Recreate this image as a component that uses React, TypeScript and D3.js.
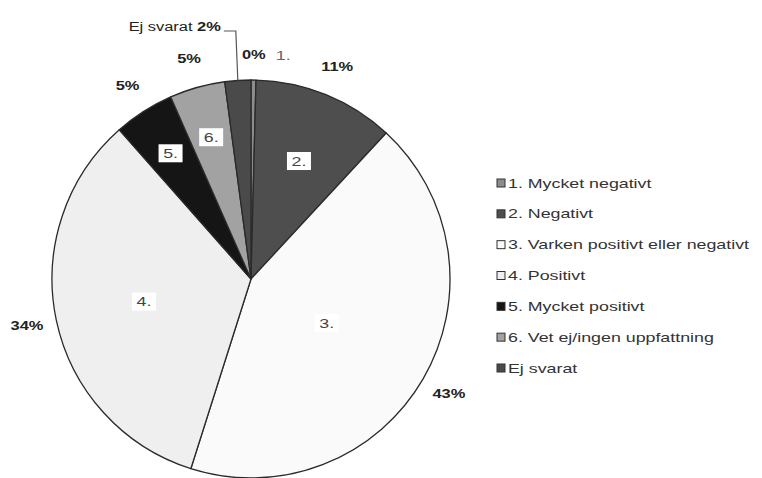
import React from "react";
import * as d3 from "d3";

const categories = [
  "1. Mycket negativt",
  "2. Negativt",
  "3. Varken positivt eller negativt",
  "4. Positivt",
  "5. Mycket positivt",
  "6. Vet ej/ingen uppfattning",
  "Ej svarat",
];
const shortLabels = ["1.", "2.", "3.", "4.", "5.", "6.", "Ej svarat"];
const values = [0.4, 11.49, 43.0, 33.6, 4.9, 4.5, 2.11];
const percentLabels = ["0%", "11%", "43%", "34%", "5%", "5%", "2%"];

const colors = ["#8c8c8c", "#4e4e4e", "#fafafa", "#efefef", "#151515", "#a2a2a2", "#4a4a4a"];
const innerRadiusFactor = [0, 0.64, 0.44, 0.55, 0.75, 0.74, 0];

const W = 762;
const H = 478;
const cx = 251;
const cy = 279;
const R = 199;
const SX = 1.37;
const FONT = "'Liberation Sans', Arial, sans-serif";

export default function App() {
  const pie = d3.pie<number>().sort(null).value((d) => d);
  const arcs = pie(values);
  const arc = d3.arc<d3.PieArcDatum<number>>().innerRadius(0).outerRadius(R);
  const legendY = d3.scalePoint<number>().domain(d3.range(categories.length)).range([183, 368]);

  const at = (a: number, r: number) => [cx + r * Math.sin(a), cy - r * Math.cos(a)];

  return (
    <svg
      width={W}
      height={H}
      style={{ position: "absolute", left: 0, top: 0, background: "#fff" }}
      fontFamily={FONT}
    >
      <g>
        {arcs.map((a, i) => (
          <path
            key={i}
            d={arc(a) || ""}
            transform={`translate(${cx},${cy})`}
            fill={colors[i]}
            stroke="#2a2a2a"
            strokeWidth={1.3}
            strokeLinejoin="round"
          />
        ))}
      </g>
      {/* inner category labels */}
      {arcs.map((a, i) => {
        if (innerRadiusFactor[i] === 0) return null;
        const mid = (a.startAngle + a.endAngle) / 2;
        const [x, y] = at(mid, R * innerRadiusFactor[i]);
        return (
          <g key={"in" + i} transform={`translate(${x},${y})`}>
            <rect x={-12} y={-9} width={24} height={18} fill="#fff" />
            <text
              transform={`scale(${SX},1)`}
              textAnchor="middle"
              dominantBaseline="central"
              fontSize={13}
              fill="#444"
            >
              {shortLabels[i]}
            </text>
          </g>
        );
      })}
      {/* outer percent labels */}
      {arcs.map((a, i) => {
        const mid = (a.startAngle + a.endAngle) / 2;
        if (i === arcs.length - 1) {
          const [ax, ay] = at(mid, R);
          const topY = cy - R - 49;
          const lx = ax - 14;
          return (
            <g key={"out" + i}>
              <polyline
                points={`${ax},${ay} ${ax - 2},${topY} ${lx},${topY}`}
                fill="none"
                stroke="#555"
                strokeWidth={1.2}
              />
              <text
                transform={`translate(${lx - 3},${topY - 4}) scale(${SX},1)`}
                textAnchor="end"
                dominantBaseline="central"
                fontSize={12}
                fill="#222"
              >
                {shortLabels[i] + " "}
                <tspan fontWeight="bold">{percentLabels[i]}</tspan>
              </text>
            </g>
          );
        }
        const [x, y] = at(mid, i === 0 ? 224 : 229);
        return (
          <g key={"out" + i}>
            <text
              transform={`translate(${x},${y}) scale(${SX},1)`}
              textAnchor="middle"
              dominantBaseline="central"
              fontSize={12}
              fontWeight="bold"
              fill="#222"
            >
              {percentLabels[i]}
            </text>
            {i === 0 && (
              <text
                transform={`translate(${x + 22},${y}) scale(${SX},1)`}
                textAnchor="start"
                dominantBaseline="central"
                fontSize={13}
                fill="#666"
              >
                {shortLabels[i]}
              </text>
            )}
          </g>
        );
      })}
      {/* legend */}
      <g>
        {categories.map((c, i) => {
          const y = legendY(i) as number;
          return (
            <g key={"lg" + i}>
              <rect x={497} y={y - 4} width={8} height={8} fill={colors[i]} stroke="#333" strokeWidth={1} />
              <text
                transform={`translate(508,${y}) scale(${SX},1)`}
                dominantBaseline="central"
                fontSize={13}
                fill="#333"
              >
                {c}
              </text>
            </g>
          );
        })}
      </g>
    </svg>
  );
}
